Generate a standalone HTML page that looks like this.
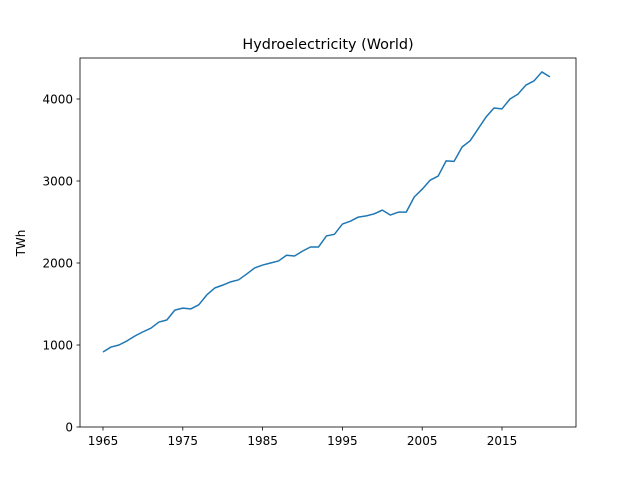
<!DOCTYPE html>
<html><head><meta charset="utf-8"><style>
body{margin:0;background:#fff}
svg{display:block;font-family:"DejaVu Sans","Liberation Sans",sans-serif}
</style></head><body>
<svg id="chart" width="640" height="480">
<rect width="640" height="480" fill="#fff"/>
<text x="328" y="49" text-anchor="middle" font-size="14.4">Hydroelectricity (World)</text>
<text transform="translate(25,243) rotate(-90)" text-anchor="middle" font-size="12">TWh</text>
<g id="ticks"></g>
<path id="line" fill="none" stroke="#1f77b4" stroke-width="1.5" stroke-linejoin="round"/>
<rect x="80" y="58" width="496" height="369" fill="none" stroke="#000" stroke-width="0.8"/>
</svg>
<script>
const years=[];for(let y=1965;y<=2021;y++)years.push(y);
const values=[915,975,1000,1050,1110,1160,1205,1280,1305,1425,1450,1440,1490,1610,1695,1730,1770,1795,1865,1940,1975,2000,2025,2095,2085,2145,2195,2195,2330,2350,2475,2510,2560,2575,2600,2645,2585,2620,2620,2805,2900,3010,3060,3245,3240,3415,3490,3635,3780,3890,3880,4000,4060,4170,4220,4330,4270];
const xTicks=[1965,1975,1985,1995,2005,2015];
const yTicks=[0,1000,2000,3000,4000];
const X=v=>103+(v-1965)*(399/50);
const Y=v=>427-v*0.0820;
const ns="http://www.w3.org/2000/svg";
const g=document.getElementById('ticks');
function mk(t,a){const e=document.createElementNS(ns,t);for(const k in a)e.setAttribute(k,a[k]);g.appendChild(e);return e;}
xTicks.forEach(t=>{
 const l=mk('line',{x1:X(t),x2:X(t),y1:427,y2:430.5,stroke:'#000','stroke-width':0.8});
 
 
 const s=mk('text',{x:X(t),y:445,'text-anchor':'middle','font-size':12});s.textContent=t;
 
 
});
yTicks.forEach(t=>{
 const l=mk('line',{x1:76.5,x2:80,y1:Y(t),y2:Y(t),stroke:'#000','stroke-width':0.8});
 
 
 const s=mk('text',{x:73,y:Y(t)+4.5,'text-anchor':'end','font-size':12});s.textContent=t;
 
 
});
document.getElementById('line').setAttribute('d',years.map((y,i)=>(i?'L':'M')+X(y).toFixed(2)+','+Y(values[i]).toFixed(2)).join(''));
</script>
</body></html>
